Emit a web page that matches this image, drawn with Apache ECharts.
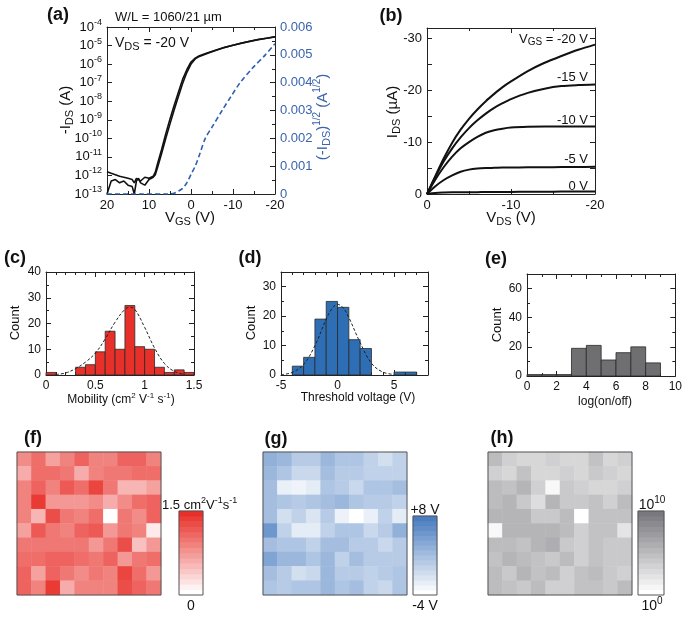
<!DOCTYPE html>
<html><head><meta charset="utf-8">
<script src="https://cdn.jsdelivr.net/npm/echarts@6/dist/echarts.min.js"></script>
<style>html,body{margin:0;padding:0;background:#fff}#c{width:685px;height:618px}</style>
</head><body><div id="c"></div>
<script>
// ---------- (a) transfer curves ----------
const transferVgs = [20,19,18,17,16,15,14,13.5,13,12.5,12,11,10,9,8.5,8,7,6,5,4,3,2,1,0,-1,-2,-4,-6,-8,-10,-12,-14,-16,-18,-20];
const idForward = [1.6e-12,1.3e-12,1.1e-12,9e-13,8e-13,7e-13,6e-13,4e-13,7e-13,6e-13,5e-13,8e-13,7e-13,9e-13,1.5e-12,4e-12,2.5e-11,1.8e-10,1.1e-9,6e-9,3e-8,1.5e-7,5e-7,1.3e-6,2.1e-6,2.8e-6,4.1e-6,5.8e-6,8e-6,1.05e-5,1.35e-5,1.7e-5,2.1e-5,2.5e-5,3e-5];
const idReverse = [1e-13,5e-13,6e-13,4e-13,5e-13,3e-13,2.5e-13,1e-13,5e-13,7e-13,4e-13,3e-13,6e-13,8e-13,1.1e-12,2.5e-12,1.5e-11,1e-10,6e-10,3.5e-9,1.8e-8,9e-8,3.5e-7,1e-6,1.9e-6,2.6e-6,3.9e-6,5.6e-6,7.8e-6,1.03e-5,1.33e-5,1.68e-5,2.08e-5,2.48e-5,2.95e-5];
const sqrtVgs = [20,12,6,4,3,2,1,0,-1,-2,-3.4,-5,-7.4,-9.5,-11.7,-14.5,-17.7,-20];
const sqrtId = [0,0,0,0.00003,0.0001,0.0002,0.0004,0.0007,0.001,0.0014,0.002,0.0024,0.003,0.0035,0.004,0.0045,0.005,0.0054];
// ---------- (b) output curves ----------
const outVds = [0,-1,-2,-3,-4,-5,-6,-7,-8,-9,-10,-12,-14,-16,-18,-20];
const outVgsLabels = ['-20 V','-15 V','-10 V','-5 V','0 V'];
const idVgsM20 = [0,-3.5,-6.9,-9.9,-12.4,-14.5,-16.3,-17.9,-19.3,-20.6,-21.7,-23.7,-25.3,-26.6,-27.8,-28.8];
const idVgsM15 = [0,-3.3,-6.3,-8.8,-10.9,-12.7,-14.2,-15.5,-16.6,-17.5,-18.3,-19.5,-20.3,-20.8,-21.0,-21.1];
const idVgsM10 = [0,-2.8,-5.2,-7.2,-8.8,-10.0,-11.0,-11.8,-12.3,-12.6,-12.8,-12.95,-13.0,-13.0,-13.0,-13.0];
const idVgsM5 = [0,-1.5,-2.7,-3.6,-4.3,-4.7,-4.9,-5.0,-5.05,-5.1,-5.1,-5.15,-5.15,-5.2,-5.2,-5.25];
const idVgs0 = [0,-0.2,-0.28,-0.32,-0.34,-0.35,-0.36,-0.37,-0.38,-0.39,-0.4,-0.42,-0.44,-0.46,-0.48,-0.5];
// ---------- (c) mobility histogram ----------
const mobilityEdges = [0,0.1,0.2,0.3,0.4,0.5,0.6,0.7,0.8,0.9,1.0,1.1,1.2,1.3,1.4,1.5];
const mobilityCounts = [1,0,0,3,4,9,17,10,27,11,10,3,1,2,1];
const mobilityFitX = [0.1,0.2,0.3,0.4,0.5,0.6,0.7,0.8,0.85,0.9,1.0,1.1,1.2,1.3,1.4];
const mobilityFitY = [0.2,0.8,2.5,5,8.5,14,20.5,25.5,26.3,25.5,18.5,10.5,4.5,1.4,0.3];
// ---------- (d) threshold voltage histogram ----------
const vthEdges = [-4,-3,-2,-1,0,1,2,3,4,5,6,7];
const vthCounts = [3,6,19,25,23,12,9,0,0,1,1];
const vthFitX = [-5,-4,-3,-2,-1,-0.5,0,0.5,1,2,3,4,5];
const vthFitY = [0.1,0.9,3.6,10,19,22.5,24,22.8,19.5,11,4,1,0.2];
// ---------- (e) on/off histogram ----------
const onoffEdges = [0,1,2,3,4,5,6,7,8,9];
const onoffCounts = [1,1,1,19,21,11,16,20,9];
// ---------- (f) mobility map (cm2/Vs), rows top->bottom ----------
const mobilityMap = [
 [0.83,1.05,0.68,0.9,1.13,0.9,0.9,1.13,1.13,0.9],
 [0.6,1.05,1.05,0.98,0.6,0.9,0.98,0.98,1.05,1.05],
 [0.9,1.13,0.9,1.2,1.05,1.35,0.98,0.53,0.53,0.68],
 [0.9,1.43,0.75,0.75,0.75,0.83,0.6,0.83,1.05,1.13],
 [0.9,0.53,1.28,0.98,0.9,1.05,0.0,0.98,0.83,1.13],
 [0.68,1.2,0.98,0.9,1.13,1.2,0.75,0.98,0.9,0.15],
 [0.98,0.98,0.98,0.98,0.98,0.75,0.98,1.28,0.45,0.75],
 [1.05,1.05,1.13,1.13,1.05,0.98,1.13,0.75,0.98,1.05],
 [1.13,0.68,1.13,0.98,0.83,0.98,0.9,1.35,1.05,0.75],
 [1.13,0.9,1.43,0.6,0.9,0.9,0.9,1.28,1.13,0.98]
];
// ---------- (g) threshold voltage map (V) ----------
const vthMap = [
 [3.2,2.6,0.8,0.8,2.6,1.4,1.4,0.2,-1,0.2],
 [2.6,1.4,-0.4,-0.4,2,0.8,0.8,0.2,0.2,0.2],
 [2,-2.6,-3,-2.2,1.4,0.8,-0.4,1.4,1.4,2],
 [2,1.4,0.8,1.4,2,2.6,1.4,0.8,0.8,0.2],
 [2,-1,0.2,-1.6,0.8,-2.8,-4,-2.6,0.2,-2.2],
 [5.6,0.2,-2.2,-2.2,0.2,1.4,1.4,-0.4,0.8,3.2],
 [2,1.4,1.4,0.2,2,2,0.8,0.8,-0.4,0.8],
 [4.4,2.6,2.6,1.4,2.6,0.2,2,0.8,0.8,0.8],
 [2,0.8,-1,-0.4,2.6,0.8,0.8,0.2,0.8,1.4],
 [1.4,0.8,1.4,1.4,2.6,1.4,2,0.2,-0.4,1.4]
];
// ---------- (h) log(on/off) map ----------
const onoffMap = [
 [5,3.5,3,3,3.5,3,3,4.5,3,3.5],
 [3.5,3,4.5,3,3,3.5,3,4,3.5,3],
 [5,4.5,5.5,3.5,0.5,4,3.5,3,3,3.5],
 [5,5.5,4,2.5,5.5,4,4,4.5,3.5,5],
 [5.5,5.5,5.5,4,4,5,0,4.5,4.5,4.5],
 [0.5,5.5,5.5,5.5,5.5,5,3.5,4.5,4.5,2],
 [5,5,4.5,5.5,6,4,3.5,4.5,4,4],
 [4.5,5.5,5,4.5,4,5,3.5,4.5,4,4],
 [5,4,5.5,4.5,5,3.5,4.5,5,4,3.5],
 [5,4.5,4,5,3.5,3.5,4.5,4.5,4,5]
];
// colour-bar levels
const mobilityBarLevels = [0,0.1,0.2,0.3,0.4,0.5,0.6,0.7,0.8,0.9,1.0,1.1,1.2,1.3,1.4,1.5];
const vthBarLevels = [-4,-3.2,-2.4,-1.6,-0.8,0,0.8,1.6,2.4,3.2,4,4.8,5.6,6.4,7.2,8];
const onoffBarLevels = [0,0.67,1.33,2,2.67,3.33,4,4.67,5.33,6,6.67,7.33,8,8.67,9.33,10];

// ================= chart =================
const FONT = "'Liberation Sans', Arial, Helvetica, sans-serif";
const AX = '#222';
const BLUE_TXT = '#3a64ae';
function mkRich(size){
  const s = Math.round(size*0.68);
  return {
    sup:{fontSize:s, fontFamily:FONT, padding:[0,0,Math.round(size*0.7),0]},
    sub:{fontSize:s+1, fontFamily:FONT, padding:[Math.round(size*0.55),0,0,0]}
  };
}
function txt(x,y,text,o){
  o = o||{};
  const size = o.size||13;
  return {type:'text', x:x, y:y, rotation:o.rot||0, z:100,
    style:{text:text, fill:o.color||'#111', fontSize:size, fontFamily:FONT,
      fontWeight:o.bold?'bold':'normal', textAlign:o.align||'center', textVerticalAlign:'middle',
      rich:mkRich(size)}};
}
function mkAxis(o){
  const a = {
    type:o.type||'value', gridIndex:o.grid, position:o.pos, min:o.min, max:o.max, inverse:!!o.inverse,
    axisLine:{show:true, onZero:false, lineStyle:{color:AX, width:1}},
    axisTick:{show:true, inside:true, length:5, lineStyle:{color:AX, width:1}},
    minorTick:{show:!!o.minor, splitNumber:o.minor||5, length:3, lineStyle:{color:AX, width:1}},
    splitLine:{show:false}, minorSplitLine:{show:false},
    axisLabel:{show:!!o.labels, color:o.labelColor||'#111', fontSize:o.fs||13, fontFamily:FONT, margin:5,
      hideOverlap:false}
  };
  if (o.hideMax) a.axisLabel.showMaxLabel = false;
  if (o.interval!=null) a.interval = o.interval;
  if (o.splitNumber) a.splitNumber = o.splitNumber;
  if (o.logBase) a.logBase = o.logBase;
  if (o.formatter) a.axisLabel.formatter = o.formatter;
  if (o.rich) a.axisLabel.rich = o.rich;
  if (o.customLabels) a.axisLabel.customValues = o.customLabels;
  if (o.customTicks) a.axisTick.customValues = o.customTicks;
  return a;
}
function catAxis(grid, n, inverse){
  const d=[]; for(let i=0;i<n;i++) d.push(String(i));
  return {type:'category', gridIndex:grid, data:d, inverse:!!inverse, show:false,
    axisLine:{show:false}, axisTick:{show:false}, axisLabel:{show:false}, splitLine:{show:false}};
}

const grids = [
  {left:107, top:27, width:168, height:167},   // 0 a
  {left:427, top:28, width:168, height:166},   // 1 b
  {left:46, top:272, width:148, height:103},   // 2 c
  {left:281, top:272, width:147, height:103},  // 3 d
  {left:527, top:274, width:149, height:102},  // 4 e
  {left:17, top:452, width:144, height:143},   // 5 f map
  {left:263, top:452, width:144, height:143},  // 6 g map
  {left:488, top:452, width:144, height:143},  // 7 h map
  {left:179, top:511, width:24, height:84},    // 8 f bar
  {left:413, top:516, width:24, height:79},    // 9 g bar
  {left:638, top:511, width:26, height:84}     // 10 h bar
];

const expFmt = v => '10{sup|' + Math.round(Math.log10(v)) + '}';
const xAxes = [
  mkAxis({grid:0,pos:'bottom',min:-20,max:20,interval:10,inverse:true,labels:true,minor:2}),
  mkAxis({grid:0,pos:'top',min:-20,max:20,interval:10,inverse:true,minor:2}),
  mkAxis({grid:1,pos:'bottom',min:-20,max:0,interval:10,inverse:true,labels:true,minor:2}),
  mkAxis({grid:1,pos:'top',min:-20,max:0,interval:10,inverse:true,minor:2}),
  mkAxis({grid:2,pos:'bottom',min:0,max:1.5,interval:0.5,labels:true,minor:5,fs:12}),
  mkAxis({grid:2,pos:'top',min:0,max:1.5,interval:0.5,minor:5}),
  mkAxis({grid:3,pos:'bottom',min:-5,max:8,interval:5,labels:true,minor:5,fs:12,hideMax:true}),
  mkAxis({grid:3,pos:'top',min:-5,max:8,interval:5,minor:5}),
  mkAxis({grid:4,pos:'bottom',min:0,max:10,interval:2,labels:true,minor:2,fs:12}),
  mkAxis({grid:4,pos:'top',min:0,max:10,interval:2,minor:2}),
  catAxis(5,10), catAxis(6,10), catAxis(7,10),
  catAxis(8,1), catAxis(9,1), catAxis(10,1)
];
const yAxes = [
  mkAxis({grid:0,pos:'left',type:'log',logBase:10,min:1e-13,max:1e-4,splitNumber:9,labels:true,formatter:expFmt,rich:mkRich(13)}),
  mkAxis({grid:0,pos:'right',min:0,max:0.006,interval:0.001,labels:true,labelColor:BLUE_TXT,minor:2,
    formatter:v => v===0?'0':v.toFixed(3)}),
  mkAxis({grid:1,pos:'left',min:-32,max:0,inverse:true,labels:true,customLabels:[-30,-20,-10,0],customTicks:[-30,-25,-20,-15,-10,-5,0]}),
  mkAxis({grid:1,pos:'right',min:-32,max:0,inverse:true,customLabels:[-30,-20,-10,0],customTicks:[-30,-25,-20,-15,-10,-5,0]}),
  mkAxis({grid:2,pos:'left',min:0,max:40,interval:10,labels:true,minor:2,fs:12}),
  mkAxis({grid:2,pos:'right',min:0,max:40,interval:10,minor:2}),
  mkAxis({grid:3,pos:'left',min:0,max:35,interval:10,labels:true,minor:2,fs:12,hideMax:true}),
  mkAxis({grid:3,pos:'right',min:0,max:35,interval:10,minor:2}),
  mkAxis({grid:4,pos:'left',min:0,max:70,interval:20,labels:true,minor:2,fs:12,hideMax:true}),
  mkAxis({grid:4,pos:'right',min:0,max:70,interval:20,minor:2}),
  catAxis(5,10,true), catAxis(6,10,true), catAxis(7,10,true),
  catAxis(8,mobilityBarLevels.length), catAxis(9,vthBarLevels.length), catAxis(10,onoffBarLevels.length)
];

function zip(xs, ys){ return xs.map((x,i)=>[x, ys[i]]); }
function line(xi, yi, data, o){
  o=o||{};
  return {type:'line', xAxisIndex:xi, yAxisIndex:yi, data:data, symbol:'none', smooth:o.smooth||false,
    silent:true, animation:false, clip:true,
    lineStyle:{color:o.color||'#111', width:o.width||1.5, type:o.dash||'solid'}};
}
function hist(xi, yi, edges, counts, fill){
  const data=[];
  counts.forEach((c,i)=>{ if(c>0) data.push([edges[i], edges[i+1], c]); });
  return {type:'custom', xAxisIndex:xi, yAxisIndex:yi, data:data, animation:false, silent:true,
    encode:{x:[0,1], y:2},
    renderItem:(params, api)=>{
      const p0 = api.coord([api.value(0), api.value(2)]);
      const p1 = api.coord([api.value(1), 0]);
      return {type:'rect', shape:{x:p0[0], y:p0[1], width:p1[0]-p0[0], height:p1[1]-p0[1]},
        style:{fill:fill, stroke:'#2a2a2a', lineWidth:0.8}};
    }};
}
function heat(xi, yi, grid2d){
  const data=[];
  grid2d.forEach((row,r)=>row.forEach((v,c)=>data.push([c, r, v])));
  return {type:'heatmap', xAxisIndex:xi, yAxisIndex:yi, data:data, animation:false, silent:true,
    itemStyle:{borderWidth:0}};
}
function bar(xi, yi, levels){
  return {type:'heatmap', xAxisIndex:xi, yAxisIndex:yi, data:levels.map((v,i)=>[0,i,v]),
    animation:false, silent:true, itemStyle:{borderWidth:0}};
}

const series = [
  line(0,0,zip(transferVgs,idForward),{width:1.6}),                 //0
  line(0,0,zip(transferVgs,idReverse),{width:1.6}),                 //1
  line(0,1,zip(sqrtVgs,sqrtId),{color:'#2f5fb0',width:1.6,dash:[5,3],smooth:0.3}), //2
  line(2,2,zip(outVds,idVgsM20),{width:2,smooth:0.3}),              //3
  line(2,2,zip(outVds,idVgsM15),{width:2,smooth:0.3}),              //4
  line(2,2,zip(outVds,idVgsM10),{width:2,smooth:0.3}),              //5
  line(2,2,zip(outVds,idVgsM5),{width:2,smooth:0.3}),               //6
  line(2,2,zip(outVds,idVgs0),{width:2,smooth:0.3}),                //7
  hist(4,4,mobilityEdges,mobilityCounts,'#e8302a'),                 //8
  line(4,4,zip(mobilityFitX,mobilityFitY),{width:1,dash:[3,2],smooth:0.4,color:'#222'}), //9
  hist(6,6,vthEdges,vthCounts,'#2e6eb5'),                           //10
  line(6,6,zip(vthFitX,vthFitY),{width:1,dash:[3,2],smooth:0.4,color:'#222'}),            //11
  hist(8,8,onoffEdges,onoffCounts,'#6f6f72'),                       //12
  heat(10,10,mobilityMap),                                          //13
  heat(11,11,vthMap),                                               //14
  heat(12,12,onoffMap),                                             //15
  bar(13,13,mobilityBarLevels),                                     //16
  bar(14,14,vthBarLevels),                                          //17
  bar(15,15,onoffBarLevels)                                         //18
];

const visualMap = [
  {type:'continuous', show:false, seriesIndex:[13,16], min:0, max:1.5, inRange:{color:['#ffffff','#e8302a']}},
  {type:'continuous', show:false, seriesIndex:[14,17], min:-4, max:8, inRange:{color:['#ffffff','#4a7dc0']}},
  {type:'continuous', show:false, seriesIndex:[15,18], min:0, max:10, inRange:{color:['#ffffff','#78787e']}}
];

function frame(g){
  return {type:'rect', z:101, shape:{x:g.left, y:g.top, width:g.width, height:g.height},
    style:{fill:'none', stroke:'#555', lineWidth:1}};
}

const graphic = [
  // panel letters
  txt(58,15,'(a)',{size:18,bold:true}),
  txt(391,16,'(b)',{size:18,bold:true}),
  txt(15,258,'(c)',{size:18,bold:true}),
  txt(250,258,'(d)',{size:18,bold:true}),
  txt(496,259,'(e)',{size:18,bold:true}),
  txt(33,438,'(f)',{size:18,bold:true}),
  txt(276,439,'(g)',{size:18,bold:true}),
  txt(502,438,'(h)',{size:18,bold:true}),
  // (a)
  txt(115,17,'W/L = 1060/21 \u00b5m',{align:'left',size:13}),
  txt(115,43,'V{sub|DS} = -20 V',{align:'left',size:14}),
  txt(66,110,'-I{sub|DS} (A)',{rot:Math.PI/2,size:15}),
  txt(323,117,'(-I{sub|DS}){sup|1/2} (A{sup|1/2})',{rot:Math.PI/2,size:15,color:BLUE_TXT}),
  txt(190,218,'V{sub|GS} (V)',{size:15}),
  // (b)
  txt(393,112,'I{sub|DS} (\u00b5A)',{rot:Math.PI/2,size:15}),
  txt(511,218,'V{sub|DS} (V)',{size:15}),
  txt(588,39,'V{sub|GS} = ' + outVgsLabels[0],{align:'right',size:13}),
  txt(588,77,outVgsLabels[1],{align:'right',size:13}),
  txt(588,120,outVgsLabels[2],{align:'right',size:13}),
  txt(588,159,outVgsLabels[3],{align:'right',size:13}),
  txt(588,186,outVgsLabels[4],{align:'right',size:13}),
  // (c)(d)(e)
  txt(15,323,'Count',{rot:Math.PI/2,size:13}),
  txt(121,400,'Mobility (cm{sup|2} V{sup|-1} s{sup|-1})',{size:12}),
  txt(251,323,'Count',{rot:Math.PI/2,size:13}),
  txt(358,398,'Threshold voltage (V)',{size:12}),
  txt(497,325,'Count',{rot:Math.PI/2,size:13}),
  txt(605,402,'log(on/off)',{size:12}),
  // colour bars
  txt(162,505,'1.5 cm{sup|2}V{sup|-1}s{sup|-1}',{align:'left',size:13}),
  txt(191,606,'0',{size:14}),
  txt(425,510,'+8 V',{size:14}),
  txt(425,606,'-4 V',{size:14}),
  txt(652,505,'10{sup|10}',{size:14}),
  txt(652,606,'10{sup|0}',{size:14}),
  frame(grids[5]), frame(grids[6]), frame(grids[7]),
  frame(grids[8]), frame(grids[9]), frame(grids[10])
];

const chart = echarts.init(document.getElementById('c'), null, {renderer:'canvas'});
chart.setOption({
  animation:false,
  backgroundColor:'#ffffff',
  textStyle:{fontFamily:FONT},
  grid:grids, xAxis:xAxes, yAxis:yAxes, series:series, visualMap:visualMap, graphic:graphic
});
</script></body></html>
